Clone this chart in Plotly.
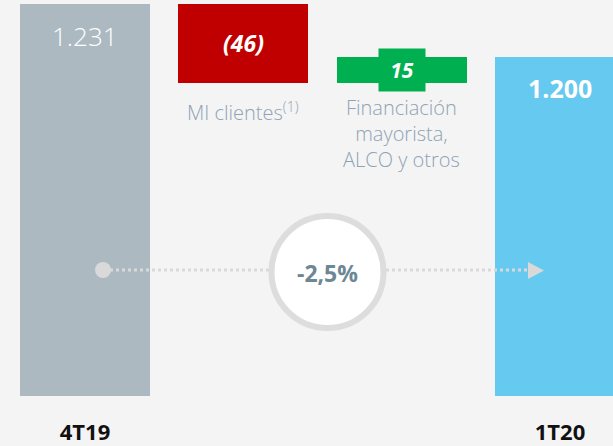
import plotly.graph_objects as go

# ---- data ----
categories = ["4T19", "MI clientes", "Financiación mayorista, ALCO y otros", "1T20"]
start_value = 1231
changes = [-46, 15]
end_value = 1200
bar_labels = ["1.231", "(46)", "15", "1.200"]
side_labels = ["MI clientes<sup>(1)</sup>", "Financiación<br>mayorista,<br>ALCO y otros"]
tick_labels = ["4T19", "1T20"]
variation_label = "-2,5%"

colors = ["#acb9c1", "#c00000", "#00b050", "#66c9f0"]

W, H = 613, 446
PLOT_H = 396  # plot area height (margin bottom = 50)

# bar geometry derived from data
x = list(range(len(categories)))
bases, heights = [], []
running = start_value
bases.append(0); heights.append(start_value)
for c in changes:
    lo = min(running, running + c)
    bases.append(lo); heights.append(abs(c))
    running += c
bases.append(0); heights.append(end_value)
tops = [b + h for b, h in zip(bases, heights)]

fig = go.Figure()
fig.add_trace(go.Bar(
    x=x, y=heights, base=bases, width=0.82,
    marker=dict(color=colors, line=dict(width=0)),
    hoverinfo="skip", showlegend=False,
))

def pxx(p):
    return p / W

def pxy(p):
    return (PLOT_H - p) / PLOT_H

shapes = []
# dotted connector
shapes.append(dict(type="line", xref="paper", yref="paper",
                   x0=pxx(104), x1=pxx(530), y0=pxy(270), y1=pxy(270),
                   line=dict(color="#d9d9d9", width=3, dash="dot"), layer="above"))
# start dot
shapes.append(dict(type="circle", xref="paper", yref="paper",
                   x0=pxx(95), x1=pxx(111), y0=pxy(278), y1=pxy(262),
                   fillcolor="#d9d9d9", line=dict(width=0), layer="above"))
# arrow head
shapes.append(dict(type="path", xref="paper", yref="paper",
                   path=f"M {pxx(528)} {pxy(262)} L {pxx(544)} {pxy(270.5)} L {pxx(528)} {pxy(279)} Z",
                   fillcolor="#d9d9d9", line=dict(width=0), layer="above"))
# big circle
cx, cy, r = 327.5, 272, 56
shapes.append(dict(type="circle", xref="paper", yref="paper",
                   x0=pxx(cx - r), x1=pxx(cx + r), y0=pxy(cy + r), y1=pxy(cy - r),
                   fillcolor="white", line=dict(color="#dddddd", width=6), layer="above"))

annotations = []
# value labels
annotations.append(dict(x=0, y=tops[0], xref="x", yref="y", text=bar_labels[0],
                        showarrow=False, yanchor="top", yshift=-12,
                        font=dict(family="Open Sans", size=26, color="white", weight=300)))
annotations.append(dict(x=1, y=(tops[1] + bases[1]) / 2, xref="x", yref="y",
                        text=f"<b><i>{bar_labels[1]}</i></b>", showarrow=False,
                        yanchor="middle", yshift=1,
                        font=dict(family="Open Sans", size=23, color="white")))
annotations.append(dict(x=2, y=(tops[2] + bases[2]) / 2, xref="x", yref="y",
                        text=f"<b><i>{bar_labels[2]}</i></b>", showarrow=False,
                        yanchor="middle", bgcolor=colors[2], width=44, height=40,
                        font=dict(family="Open Sans", size=21, color="white")))
annotations.append(dict(x=3, y=tops[3], xref="x", yref="y",
                        text=f"<b>{bar_labels[3]}</b>", showarrow=False,
                        yanchor="top", yshift=-12,
                        font=dict(family="Open Sans", size=25, color="white")))
# side labels under the change bars
for i, lab in zip([1, 2], side_labels):
    annotations.append(dict(x=i, y=bases[i], xref="x", yref="y", text=lab,
                            showarrow=False, yanchor="top", yshift=-12 if i == 1 else -9,
                            align="center",
                            font=dict(family="Open Sans", size=20, color="#8fa3b4", weight=300)))
# variation
annotations.append(dict(x=pxx(cx), y=pxy(cy + 1), xref="paper", yref="paper",
                        xanchor="center", yanchor="middle",
                        text=f"<b>{variation_label}</b>", showarrow=False,
                        font=dict(family="Open Sans", size=23, color="#6e8795")))

fig.update_layout(
    width=W, height=H,
    margin=dict(l=0, r=0, t=0, b=H - PLOT_H),
    paper_bgcolor="#f4f4f4", plot_bgcolor="#f4f4f4",
    shapes=shapes, annotations=annotations,
    bargap=0,
    xaxis=dict(range=[-85 / 158.33, (W - 85) / 158.33], showgrid=False, zeroline=False,
               showline=False, tickvals=[0, 3], ticktext=[f"<b>{t}</b>" for t in tick_labels],
               ticks="", ticklabelstandoff=21, fixedrange=True,
               tickfont=dict(family="Open Sans", size=22, color="#111111")),
    yaxis=dict(range=[1003.1, 1233.3], visible=False, fixedrange=True),
)

fig.write_html("out.html", config={"displayModeBar": False},
               post_script="document.body.style.margin='0';document.body.style.background='#f4f4f4';")
